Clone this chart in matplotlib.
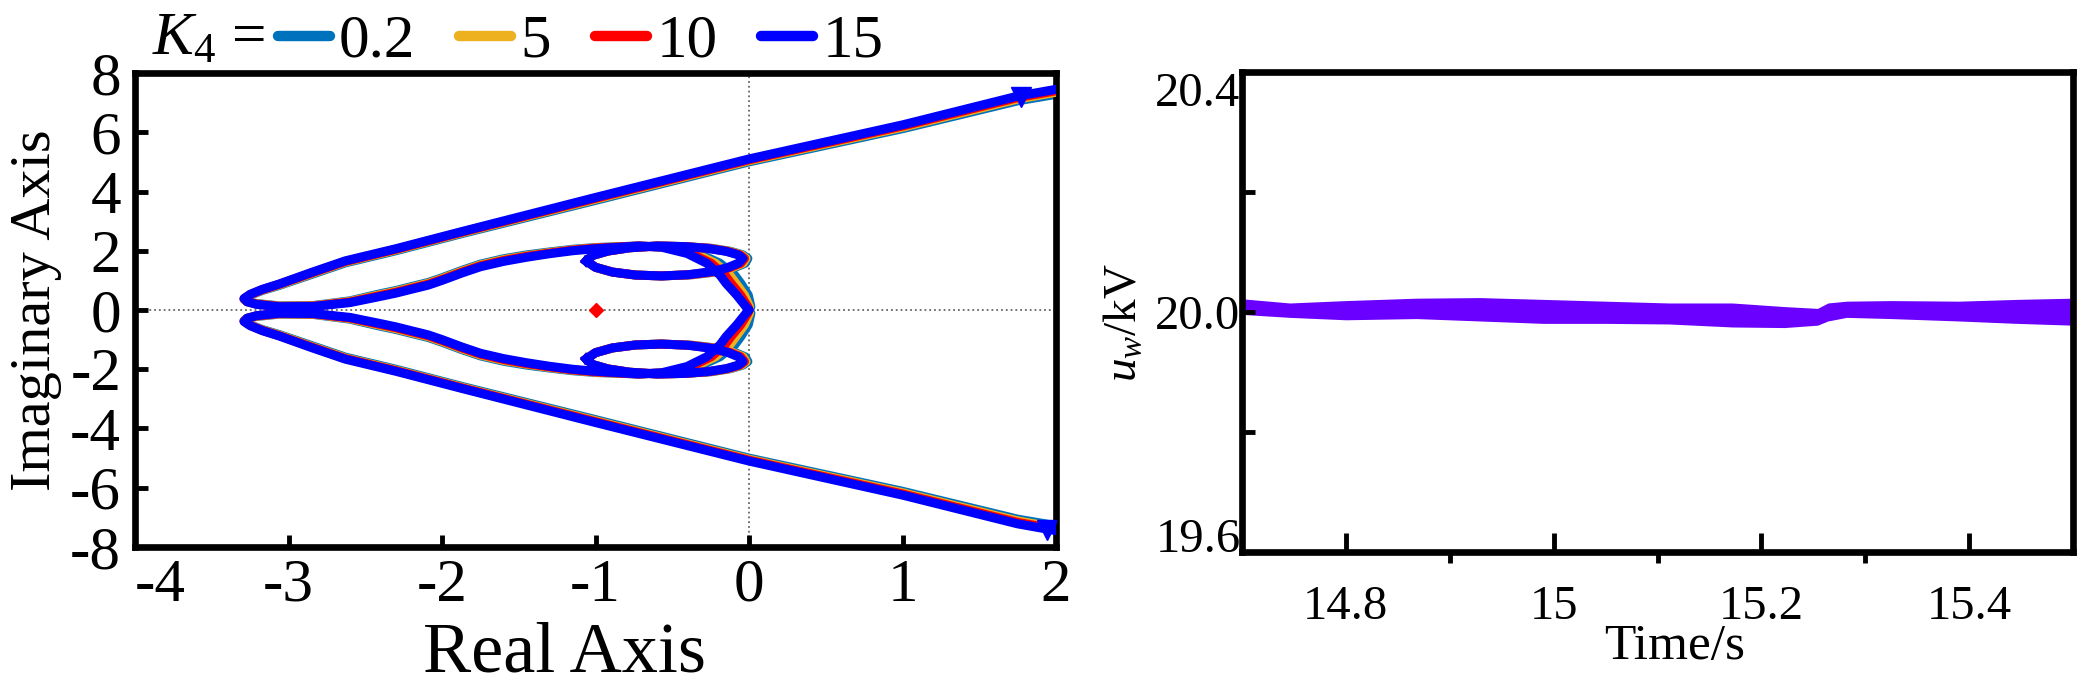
import numpy as np
import matplotlib
matplotlib.use('Agg')
import matplotlib.pyplot as plt
from matplotlib.lines import Line2D

plt.rcParams['font.family'] = 'Liberation Serif'
plt.rcParams['mathtext.fontset'] = 'custom'
plt.rcParams['mathtext.rm'] = 'Liberation Serif'
plt.rcParams['mathtext.it'] = 'Liberation Serif:italic'
plt.rcParams['axes.unicode_minus'] = False

# ---- root locus data (upper half, the lower half is its mirror) ----
k_labels = ['0.2', '5', '10', '15']
k_colors = ['#0072BD', '#EDB120', '#FF0000', '#0000FF']

# asymptote branch: from x=2 down to the left tip and back along the inner curve
outer_x = [2.0, 1.75, 1.0, 0.0, -1.0, -1.87, -2.3, -2.63, -2.85, -3.06,
           -3.17, -3.25, -3.29, -3.27, -3.21, -3.06, -2.84, -2.6, -2.41, -2.3,
           -2.2, -2.09, -2.0, -1.87, -1.75, -1.6, -1.45, -1.3, -1.15, -1.0]
outer_y_k02 = [7.28, 7.06, 6.12, 5.00, 3.70, 2.58, 2.00, 1.59, 1.20, 0.83,
               0.66, 0.50, 0.36, 0.28, 0.22, 0.14, 0.15, 0.31, 0.54, 0.66,
               0.79, 0.93, 1.09, 1.34, 1.55, 1.73, 1.86, 1.96, 2.05, 2.11]
outer_y_k5 = [7.35, 7.12, 6.17, 5.04, 3.74, 2.61, 2.03, 1.62, 1.23, 0.85,
              0.68, 0.51, 0.37, 0.28, 0.21, 0.13, 0.14, 0.29, 0.51, 0.63,
              0.76, 0.90, 1.06, 1.31, 1.52, 1.70, 1.83, 1.94, 2.03, 2.10]
outer_y_k10 = [7.40, 7.17, 6.21, 5.07, 3.77, 2.63, 2.05, 1.64, 1.25, 0.87,
               0.69, 0.52, 0.38, 0.28, 0.20, 0.12, 0.13, 0.27, 0.48, 0.60,
               0.73, 0.87, 1.03, 1.28, 1.49, 1.67, 1.81, 1.92, 2.02, 2.09]
outer_y_k15 = [7.45, 7.22, 6.25, 5.10, 3.80, 2.65, 2.07, 1.66, 1.27, 0.88,
               0.70, 0.53, 0.39, 0.28, 0.19, 0.11, 0.12, 0.25, 0.45, 0.57,
               0.70, 0.84, 1.00, 1.25, 1.46, 1.64, 1.78, 1.90, 2.00, 2.07]

# continuation from the top of the heart down to the origin
branch_y = [2.16, 2.12, 1.91, 1.58, 1.18, 0.90, 0.50, 0.11, 0.0]
branch_x_k02 = [-0.72, -0.51, -0.33, -0.19, -0.094, -0.054, -0.005, 0.012, 0.0]
branch_x_k5 = [-0.72, -0.53, -0.355, -0.22, -0.126, -0.086, -0.03, 0.003, 0.0]
branch_x_k10 = [-0.72, -0.55, -0.38, -0.248, -0.158, -0.118, -0.055, -0.008, 0.0]
branch_x_k15 = [-0.72, -0.57, -0.405, -0.276, -0.19, -0.15, -0.08, -0.02, 0.0]

# small closed loop near (-0.55, 1.65)
loop_y = [1.65, 1.84, 1.99, 2.10, 2.16, 2.14, 2.08, 1.98, 1.86, 1.74,
          1.58, 1.43, 1.29, 1.19, 1.15, 1.18, 1.28, 1.44, 1.65]
loop_x_k02 = [-1.06, -1.02, -0.92, -0.78, -0.60, -0.42, -0.24, -0.12, -0.04, -0.008,
              -0.025, -0.095, -0.205, -0.37, -0.57, -0.74, -0.89, -1.00, -1.06]
loop_x_k5 = [-1.06, -1.02, -0.92, -0.78, -0.60, -0.42, -0.25, -0.13, -0.05, -0.02,
             -0.04, -0.11, -0.22, -0.38, -0.57, -0.74, -0.89, -1.00, -1.06]
loop_x_k10 = [-1.06, -1.02, -0.92, -0.78, -0.60, -0.42, -0.26, -0.14, -0.06, -0.03,
              -0.055, -0.125, -0.235, -0.39, -0.57, -0.74, -0.89, -1.00, -1.06]
loop_x_k15 = [-1.06, -1.02, -0.92, -0.78, -0.60, -0.42, -0.27, -0.15, -0.07, -0.04,
              -0.07, -0.14, -0.25, -0.40, -0.57, -0.74, -0.89, -1.00, -1.06]

outer_ys = [outer_y_k02, outer_y_k5, outer_y_k10, outer_y_k15]
branch_xs = [branch_x_k02, branch_x_k5, branch_x_k10, branch_x_k15]
loop_xs = [loop_x_k02, loop_x_k5, loop_x_k10, loop_x_k15]

arrow_x = [1.77, 1.94]
arrow_y = [7.2, -7.43]
zero_x, zero_y = -1.0, 0.0

# ---- u_w time trace: envelope of the ripple band ----
t_env = [14.70, 14.746, 14.80, 14.868, 14.929, 14.99, 15.05, 15.111, 15.172,
         15.222, 15.254, 15.264, 15.282, 15.325, 15.39, 15.446, 15.50]
uw_upper = [20.022, 20.015, 20.019, 20.023, 20.024, 20.021, 20.018, 20.015, 20.015,
            20.009, 20.006, 20.015, 20.018, 20.019, 20.018, 20.021, 20.023]
uw_lower = [19.996, 19.991, 19.987, 19.989, 19.985, 19.981, 19.981, 19.980, 19.975,
            19.974, 19.978, 19.985, 19.991, 19.989, 19.985, 19.981, 19.978]

fig = plt.figure(figsize=(20.81, 6.96), dpi=100)
ax1 = fig.add_axes([0.0649, 0.2141, 0.4426, 0.681])
ax2 = fig.add_axes([0.5968, 0.2069, 0.3994, 0.6897])

lw = 6.5
ax1.axhline(0, color='#666666', ls=':', lw=1.3, zorder=1)
ax1.axvline(0, color='#666666', ls=':', lw=1.3, zorder=1)
for i in range(4):
    xs = np.concatenate([outer_x, branch_xs[i]])
    ys = np.concatenate([outer_ys[i], branch_y])
    for sgn in (1, -1):
        ax1.plot(xs, sgn * ys, color=k_colors[i], lw=lw, zorder=2 + i,
                 solid_capstyle='round', solid_joinstyle='round')
        ax1.plot(loop_xs[i], sgn * np.array(loop_y), color=k_colors[i], lw=lw,
                 zorder=2 + i, solid_joinstyle='round')
ax1.plot(arrow_x, arrow_y, ls='none', marker='v', ms=15, color='#0000FF', zorder=8)
ax1.plot(zero_x, zero_y, ls='none', marker='D', ms=7, color='#FF0000', zorder=8)

ax1.set_xlim(-4, 2)
ax1.set_ylim(-8, 8)
ax1.set_xticks([-4, -3, -2, -1, 0, 1, 2])
ax1.set_yticks([-8, -6, -4, -2, 0, 2, 4, 6, 8])
ax1.tick_params(direction='in', length=9, width=3.5, labelsize=44,
                top=False, right=False)
ax1.tick_params(axis='x', pad=8)
ax1.tick_params(axis='y', pad=10)
ax1.get_xticklabels()[0].set_ha('left')
ax1.set_xlabel('Real Axis', fontsize=52)
ax1.set_ylabel('Imaginary Axis', fontsize=42)
ax1.xaxis.set_label_coords(0.466, -0.226)
ax1.yaxis.set_label_coords(-0.108, 0.5)

handles = [Line2D([], [], color=c, lw=7.5, solid_capstyle='round') for c in k_colors]
fig.legend(handles, k_labels, ncol=4, loc='center left',
           bbox_to_anchor=(278 / 2081, 1 - 42 / 696), frameon=False,
           fontsize=44, handlelength=0.85, handletextpad=0.15,
           columnspacing=0.72, borderpad=0, borderaxespad=0)
fig.text(152 / 2081, 1 - 40 / 696, r'$K_4$ =', fontsize=44, va='center', ha='left')

# right panel
ax2.fill_between(t_env, uw_lower, uw_upper, color='#6A00FF', lw=0)
ax2.set_xlim(14.7, 15.5)
ax2.set_ylim(19.6, 20.4)
ax2.set_xticks([14.8, 15.0, 15.2, 15.4])
ax2.set_xticklabels(['14.8', '15', '15.2', '15.4'])
ax2.set_xticks([14.9, 15.1, 15.3], minor=True)
ax2.set_yticks([19.6, 19.8, 20.0, 20.2, 20.4])
ax2.set_yticklabels(['19.6', '', '20.0', '', '20.4'])
ax2.tick_params(direction='in', width=3.5, labelsize=35, top=False, right=False)
ax2.tick_params(axis='x', which='major', length=14, pad=24)
ax2.tick_params(axis='x', which='minor', length=8, width=3.5)
ax2.tick_params(axis='y', length=9, pad=1)
ylabs = ax2.get_yticklabels()
ylabs[0].set_va('baseline')
ylabs[-1].set_va('top')
ax2.set_xlabel('Time/s', fontsize=37)
ax2.set_ylabel(r'$u_w$/kV', fontsize=34)
ax2.xaxis.set_label_coords(0.521, -0.198)
ax2.yaxis.set_label_coords(-0.141, 0.479)

for ax in (ax1, ax2):
    for lab in (ax.xaxis.label, ax.yaxis.label):
        lab.set_rotation_mode('default')
        lab.set_ha('center')
        lab.set_va('center')
    for s in ax.spines.values():
        s.set_linewidth(4.8)

fig.savefig('out.png', dpi=100)
